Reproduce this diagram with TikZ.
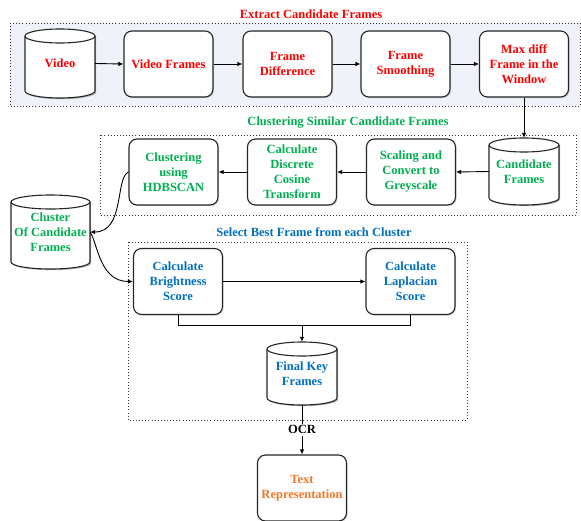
\documentclass[tikz,border=0pt]{standalone}
\usepackage{fontspec}
\setmainfont{Liberation Serif}
\usetikzlibrary{arrows.meta,shadows,calc}
\definecolor{cred}{RGB}{255,0,0}
\definecolor{cgreen}{RGB}{0,176,80}
\definecolor{cblue}{RGB}{0,112,192}
\definecolor{corange}{RGB}{240,120,40}
\definecolor{gfill}{RGB}{240,242,249}
\tikzset{
  x=1pt, y=1pt,
  txt/.style={font=\fontsize{12.5}{15}\selectfont\bfseries},
  box/.style={txt, draw=black!85, line width=1.1pt, rounded corners=8pt, fill=white,
    minimum width=89pt, minimum height=66pt, align=center, inner sep=2pt,
    drop shadow={shadow xshift=1.2pt, shadow yshift=-1.2pt, opacity=0.3}},
  cyltext/.style={txt, inner sep=0pt, align=center},
  grp/.style={draw=black!80, line width=0.9pt, dash pattern=on 0.9pt off 2.2pt},
  ttl/.style={txt},
  arr/.style={-{Latex[length=5pt,width=4.5pt]}, line width=0.9pt, draw=black},
  conn/.style={line width=0.9pt, draw=black},
}
% cylinder outline: cx, cy (pixels, downwards), width, height
\newcommand\cylshape[4]{%
  \begin{scope}[shift={(#1,-#2)}]
    \fill[black, opacity=0.3, shift={(1.2,-1.2)}] (-#3/2,#4/2-7) -- (-#3/2,-#4/2+7)
      arc[start angle=180,end angle=360,x radius=#3/2,y radius=7] -- (#3/2,#4/2-7)
      arc[start angle=0,end angle=180,x radius=#3/2,y radius=7] -- cycle;
    \draw[line width=1.1pt, draw=black!85, fill=white] (-#3/2,#4/2-7) -- (-#3/2,-#4/2+7)
      arc[start angle=180,end angle=360,x radius=#3/2,y radius=7] -- (#3/2,#4/2-7)
      arc[start angle=0,end angle=180,x radius=#3/2,y radius=7] -- cycle;
    \draw[line width=1.1pt, draw=black!85] (#3/2,#4/2-7)
      arc[start angle=0,end angle=-180,x radius=#3/2,y radius=7];
  \end{scope}}
\begin{document}
\begin{tikzpicture}
\useasboundingbox (0,0) rectangle (581,-520);
\fill[white] (0,0) rectangle (581,-520);

% groups
\draw[grp, fill=gfill] (10,-23) rectangle (580,-106);
\draw[grp] (100,-135) rectangle (576,-215);
\draw[grp] (128,-242) rectangle (467,-420);

\node[ttl, text=cred] (t1) at (311,-14) {Extract Candidate Frames};
\node[ttl, text=cgreen] (t2) at (348,-123) {Clustering Similar Candidate Frames};
\node[ttl, text=cblue] (t3) at (314,-232) {Select Best Frame from each Cluster};

% row 1
\cylshape{60}{63.5}{70}{69}
\node[cyltext, text=cred, minimum width=70, minimum height=69] (v) at (60,-63.5) {Video};
\node[box, text=cred] (vf) at (168.5,-64) {Video Frames};
\node[box, text=cred] (fd) at (287.5,-64) {Frame\\Difference};
\node[box, text=cred] (fs) at (405.5,-64) {Frame\\Smoothing};
\node[box, text=cred] (md) at (524,-64) {Max diff\\Frame in the\\Window};

\draw[arr] (v.east) -- (vf.west);
\draw[arr] (vf.east) -- (fd.west);
\draw[arr] (fd.east) -- (fs.west);
\draw[arr] (fs.east) -- (md.west);

% row 2
\cylshape{524}{171.5}{70}{67}
\node[cyltext, text=cgreen, minimum width=70, minimum height=67] (cf) at (524,-171.5) {Candidate\\Frames};
\node[box, text=cgreen] (sc) at (411,-172) {Scaling and\\Convert to\\Greyscale};
\node[box, text=cgreen] (dct) at (292,-172) {Calculate\\Discrete\\Cosine\\Transform};
\node[box, text=cgreen] (hd) at (173.5,-172) {Clustering\\using\\HDBSCAN};

\draw[arr] (md.south) -- (cf.north);
\draw[arr] (cf.west) -- (sc.east);
\draw[arr] (sc.west) -- (dct.east);
\draw[arr] (dct.west) -- (hd.east);

% cluster
\cylshape{50.5}{232}{79}{74}
\node[cyltext, text=cgreen, minimum width=79, minimum height=74] (cl) at (50.5,-232) {Cluster\\Of Candidate\\Frames};

\draw[arr] (hd.west) .. controls (115,-178) and (125,-232) .. (cl.east);

% row 3
\node[box, text=cblue] (br) at (178,-281.5) {Calculate\\Brightness\\Score};
\node[box, text=cblue] (lp) at (410.5,-281.5) {Calculate\\Laplacian\\Score};
\draw[arr] (cl.east) .. controls (98,-245) and (100,-281.5) .. (br.west);
\draw[arr] (br.east) -- (lp.west);

\cylshape{302}{373.5}{70}{63}
\node[cyltext, text=cblue, minimum width=70, minimum height=63] (fk) at (302,-373.5) {Final Key\\Frames};

\coordinate (jn) at (302,-325);
\draw[conn] (br.south) -- (br.south |- jn) -- (lp.south |- jn) -- (lp.south);
\draw[arr] (fk.north |- jn) -- (fk.north);

% output
\node[box, text=corange] (tr) at (302,-488) {Text\\Representation};
\draw[arr] (fk.south) -- node[txt, fill=white, inner sep=1.5pt] (ocr) {OCR} (tr.north);
\end{tikzpicture}
\end{document}
